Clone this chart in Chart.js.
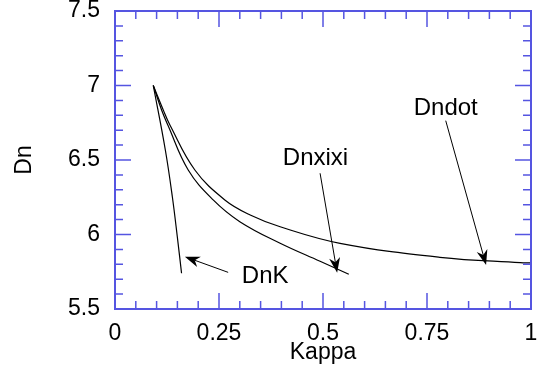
<!DOCTYPE html>
<html>
<head>
<meta charset="utf-8">
<script src="https://cdn.jsdelivr.net/npm/chart.js@4"></script>
<style>
  html, body { margin: 0; padding: 0; background: #fff; }
  #wrap { width: 542px; height: 368px; }
</style>
</head>
<body>
<div id="wrap"><canvas id="chart"></canvas></div>
<script>
// curves
const kappaDndot = [0.092, 0.116, 0.132, 0.192, 0.264, 0.325, 0.397, 0.541, 0.781, 0.974, 1.0];
const dnDndot    = [7.0, 6.836, 6.735, 6.433, 6.232, 6.131, 6.052, 5.941, 5.847, 5.811, 5.809];

const kappaDnxixi = [0.092, 0.112, 0.127, 0.176, 0.236, 0.300, 0.397, 0.493, 0.562];
const dnDnxixi    = [7.0, 6.836, 6.735, 6.433, 6.232, 6.086, 5.941, 5.820, 5.733];

const kappaDnK = [0.092, 0.121, 0.138, 0.150, 0.160];
const dnDnK    = [7.0, 6.567, 6.25, 5.98, 5.740];

// axes
const xTicks = [0, 0.25, 0.5, 0.75, 1];
const yTicks = [5.5, 6, 6.5, 7, 7.5];
const xMinorStep = 0.05;
const yMinorStep = 0.1;

// arrow annotations
const arrowLabels = ["DnK", "Dnxixi", "Dndot"];
const labelKappa = [0.361, 0.482, 0.795];
const labelDn = [5.672, 6.466, 6.802];
const arrowFromKappa = [0.272, 0.493, 0.795];
const arrowFromDn = [5.746, 6.411, 6.764];
const arrowToKappa = [0.168, 0.534, 0.892];
const arrowToDn = [5.851, 5.744, 5.795];

const FONT = "'Liberation Sans', Arial, sans-serif";
const BLUE = "rgb(85, 85, 225)";

function toPoints(xs, ys) {
  return xs.map((x, i) => ({ x, y: ys[i] }));
}

function curve(label, xs, ys) {
  return {
    label,
    data: toPoints(xs, ys),
    showLine: true,
    borderColor: "#000",
    borderWidth: 1.2,
    pointRadius: 0,
    tension: 0.4,
    fill: false
  };
}

// frame, inward ticks on all four sides, arrows + their labels
const decor = {
  id: "decor",
  afterDatasetsDraw(chart) {
    const { ctx, chartArea: a, scales } = chart;
    const xs = scales.x, ys = scales.y;
    ctx.save();
    ctx.strokeStyle = BLUE;
    ctx.lineWidth = 1.5;

    const nx = Math.round((xs.max - xs.min) / xMinorStep);
    for (let i = 0; i <= nx; i++) {
      const v = xs.min + i * xMinorStep;
      const major = xTicks.some(t => Math.abs(t - v) < 1e-6);
      const len = major ? 16 : 8;
      const px = xs.getPixelForValue(v);
      ctx.beginPath();
      ctx.moveTo(px, a.bottom); ctx.lineTo(px, a.bottom - len);
      ctx.moveTo(px, a.top); ctx.lineTo(px, a.top + len);
      ctx.stroke();
    }
    const ny = Math.round((ys.max - ys.min) / yMinorStep);
    for (let i = 0; i <= ny; i++) {
      const v = ys.min + i * yMinorStep;
      const major = yTicks.some(t => Math.abs(t - v) < 1e-6);
      const len = major ? 16 : 8;
      const py = ys.getPixelForValue(v);
      ctx.beginPath();
      ctx.moveTo(a.left, py); ctx.lineTo(a.left + len, py);
      ctx.moveTo(a.right, py); ctx.lineTo(a.right - len, py);
      ctx.stroke();
    }
    ctx.lineWidth = 2;
    ctx.strokeRect(a.left, a.top, a.right - a.left, a.bottom - a.top);

    // arrows
    ctx.strokeStyle = "#000";
    ctx.fillStyle = "#000";
    ctx.lineWidth = 1;
    arrowLabels.forEach((name, i) => {
      const x0 = xs.getPixelForValue(arrowFromKappa[i]);
      const y0 = ys.getPixelForValue(arrowFromDn[i]);
      const x1 = xs.getPixelForValue(arrowToKappa[i]);
      const y1 = ys.getPixelForValue(arrowToDn[i]);
      const ang = Math.atan2(y1 - y0, x1 - x0);
      const L = 15, W = 5.5;
      ctx.beginPath();
      ctx.moveTo(x0, y0);
      ctx.lineTo(x1 - Math.cos(ang) * L * 0.7, y1 - Math.sin(ang) * L * 0.7);
      ctx.stroke();
      ctx.save();
      ctx.translate(x1, y1);
      ctx.rotate(ang);
      ctx.beginPath();
      ctx.moveTo(0, 0);
      ctx.lineTo(-L, -W);
      ctx.lineTo(-L * 0.7, 0);
      ctx.lineTo(-L, W);
      ctx.closePath();
      ctx.fill();
      ctx.restore();

      ctx.font = "24px " + FONT;
      ctx.textAlign = "center";
      ctx.textBaseline = "alphabetic";
      ctx.fillText(name, xs.getPixelForValue(labelKappa[i]), ys.getPixelForValue(labelDn[i]));
    });
    ctx.restore();
  }
};

function noPad(scale) {
  scale.paddingTop = 0;
  scale.paddingBottom = 0;
  scale.paddingLeft = 0;
  scale.paddingRight = 0;
}

new Chart(document.getElementById("chart"), {
  type: "scatter",
  data: {
    datasets: [
      curve("Dndot", kappaDndot, dnDndot),
      curve("Dnxixi", kappaDnxixi, dnDnxixi),
      curve("DnK", kappaDnK, dnDnK)
    ]
  },
  options: {
    responsive: true,
    maintainAspectRatio: false,
    animation: false,
    devicePixelRatio: 1,
    layout: { padding: { top: 11, right: 11, left: 0, bottom: 0 } },
    plugins: { legend: { display: false }, tooltip: { enabled: false } },
    scales: {
      x: {
        type: "linear",
        min: 0, max: 1,
        afterBuildTicks: s => { s.ticks = xTicks.map(v => ({ value: v })); },
        afterFit: s => { s.height = 59; noPad(s); },
        grid: { display: false, drawTicks: false },
        border: { display: false },
        ticks: {
          padding: 11,
          color: "#000",
          font: { family: FONT, size: 23 },
          maxRotation: 0,
          callback: v => String(v)
        },
        title: {
          display: true, text: "Kappa", color: "#000",
          font: { family: FONT, size: 23 },
          padding: { top: 0, bottom: 2 }
        }
      },
      y: {
        type: "linear",
        min: 5.5, max: 7.5,
        afterBuildTicks: s => { s.ticks = yTicks.map(v => ({ value: v })); },
        afterFit: s => { s.width = 115; noPad(s); },
        grid: { display: false, drawTicks: false },
        border: { display: false },
        ticks: {
          padding: 15,
          color: "#000",
          font: { family: FONT, size: 23 },
          callback: v => String(v)
        },
        title: {
          display: true, text: "Dn", color: "#000",
          font: { family: FONT, size: 23 },
          padding: { top: 11, bottom: 0 }
        }
      }
    }
  },
  plugins: [decor]
});
</script>
</body>
</html>
